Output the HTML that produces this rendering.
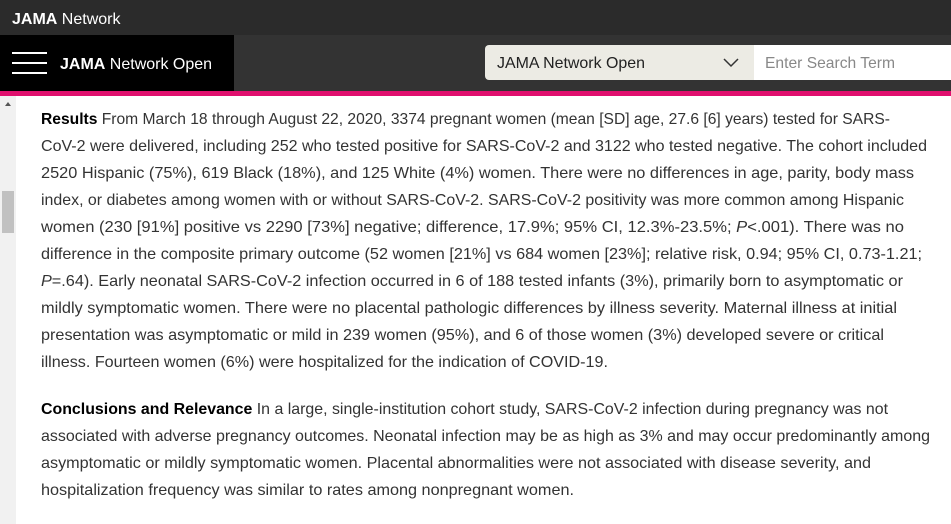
<!DOCTYPE html>
<html><head><meta charset="utf-8"><style>
body{margin:0;width:951px;height:524px;overflow:hidden;background:#fff;font-family:"Liberation Sans",sans-serif;position:relative}
.top{position:absolute;left:0;top:0;width:951px;height:35px;background:#2b2b2b}
.nav{position:absolute;left:0;top:35px;width:951px;height:56px;background:#333}
.blk{position:absolute;left:0;top:35px;width:234px;height:56px;background:#000}
.pink{position:absolute;left:0;top:91px;width:951px;height:5px;background:#e0106e}
.sel{position:absolute;left:485px;top:45px;width:269px;height:35px;background:#ecebe4;border-radius:4px 0 0 4px}
.inp{position:absolute;left:754px;top:45px;width:197px;height:35px;background:#fff}
.sb{position:absolute;left:0;top:96px;width:16px;height:428px;background:#f1f1f1}
.th{position:absolute;left:2px;top:95px;width:12px;height:42px;background:#c1c1c1}
svg{position:absolute;left:0;top:0}
</style></head><body>
<div class="top"></div><div class="nav"></div><div class="blk"></div><div class="pink"></div>
<div class="sel"></div><div class="inp"></div><div class="sb"><div class="th"></div></div>
<svg width="951" height="524" font-family="Liberation Sans, sans-serif">
<text x="12" y="24" fill="#fff" font-size="16"><tspan font-weight="bold">JAMA</tspan> Network</text>
<g stroke="#fff" stroke-width="2"><line x1="12" y1="53" x2="47" y2="53"/><line x1="12" y1="63" x2="47" y2="63"/><line x1="12" y1="73" x2="47" y2="73"/></g>
<text x="60" y="69" fill="#fff" font-size="16"><tspan font-weight="bold">JAMA</tspan> Network Open</text>
<text x="497" y="68" fill="#222" font-size="16" textLength="148" lengthAdjust="spacingAndGlyphs">JAMA Network Open</text>
<polyline points="724,59 731,66 738,59" fill="none" stroke="#333" stroke-width="1.5"/>
<text x="765" y="68" fill="#888" font-size="16" textLength="130" lengthAdjust="spacingAndGlyphs">Enter Search Term</text>
<polygon points="5,106 8,102 11,106" fill="#555"/>
<g fill="#333" font-size="16">
<text x="41" y="124" textLength="849" lengthAdjust="spacingAndGlyphs"><tspan font-weight="bold" fill="#000">Results</tspan>  From March 18 through August 22, 2020, 3374 pregnant women (mean [SD] age, 27.6 [6] years) tested for SARS-</text>
<text x="41" y="151" textLength="886" lengthAdjust="spacingAndGlyphs">CoV-2 were delivered, including 252 who tested positive for SARS-CoV-2 and 3122 who tested negative. The cohort included</text>
<text x="41" y="178" textLength="873" lengthAdjust="spacingAndGlyphs">2520 Hispanic (75%), 619 Black (18%), and 125 White (4%) women. There were no differences in age, parity, body mass</text>
<text x="41" y="205" textLength="863" lengthAdjust="spacingAndGlyphs">index, or diabetes among women with or without SARS-CoV-2. SARS-CoV-2 positivity was more common among Hispanic</text>
<text x="41" y="232" textLength="863" lengthAdjust="spacingAndGlyphs">women (230 [91%] positive vs 2290 [73%] negative; difference, 17.9%; 95% CI, 12.3%-23.5%; <tspan font-style="italic">P</tspan>&lt;.001). There was no</text>
<text x="41" y="259" textLength="881" lengthAdjust="spacingAndGlyphs">difference in the composite primary outcome (52 women [21%] vs 684 women [23%]; relative risk, 0.94; 95% CI, 0.73-1.21;</text>
<text x="41" y="286" textLength="862" lengthAdjust="spacingAndGlyphs"><tspan font-style="italic">P</tspan>=.64). Early neonatal SARS-CoV-2 infection occurred in 6 of 188 tested infants (3%), primarily born to asymptomatic or</text>
<text x="41" y="313" textLength="856" lengthAdjust="spacingAndGlyphs">mildly symptomatic women. There were no placental pathologic differences by illness severity. Maternal illness at initial</text>
<text x="41" y="340" textLength="843" lengthAdjust="spacingAndGlyphs">presentation was asymptomatic or mild in 239 women (95%), and 6 of those women (3%) developed severe or critical</text>
<text x="41" y="367" textLength="567" lengthAdjust="spacingAndGlyphs">illness. Fourteen women (6%) were hospitalized for the indication of COVID-19.</text>
<text x="41" y="414" textLength="847" lengthAdjust="spacingAndGlyphs"><tspan font-weight="bold" fill="#000">Conclusions and Relevance</tspan>  In a large, single-institution cohort study, SARS-CoV-2 infection during pregnancy was not</text>
<text x="41" y="441" textLength="889" lengthAdjust="spacingAndGlyphs">associated with adverse pregnancy outcomes. Neonatal infection may be as high as 3% and may occur predominantly among</text>
<text x="41" y="468" textLength="830" lengthAdjust="spacingAndGlyphs">asymptomatic or mildly symptomatic women. Placental abnormalities were not associated with disease severity, and</text>
<text x="41" y="495" textLength="533" lengthAdjust="spacingAndGlyphs">hospitalization frequency was similar to rates among nonpregnant women.</text>
</g>
</svg>
</body></html>
